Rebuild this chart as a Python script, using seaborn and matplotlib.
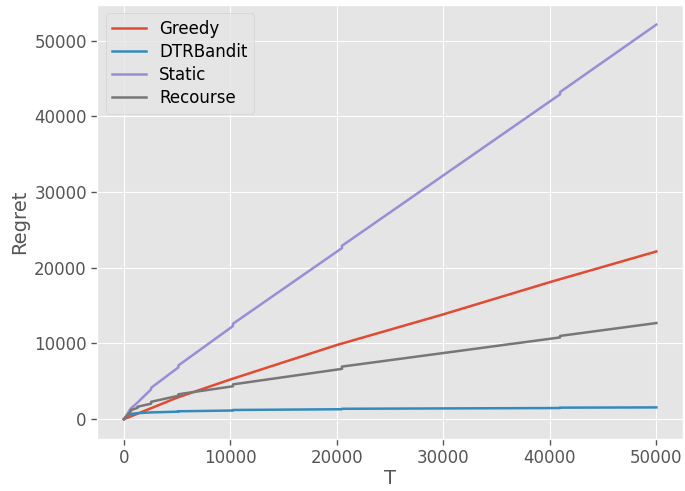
import matplotlib
matplotlib.use("Agg")
import matplotlib.pyplot as plt
import seaborn as sns
import pandas as pd

# knots (epoch doubling -> small jumps)
greedy_T = [0, 5000, 10000, 20000, 30000, 40000, 50000]
greedy_r = [0, 2850, 5250, 9800, 13850, 18100, 22150]

dtr_T = [0, 320, 640, 1280, 2560, 5120, 5121, 10240, 10241, 20480, 20481, 40960, 40961, 50000]
dtr_r = [0, 500, 700, 800, 900, 1000, 1050, 1150, 1220, 1320, 1380, 1480, 1530, 1560]

static_T = [0, 640, 1280, 2560, 2561, 5120, 5121, 10240, 10241, 20480, 20481, 40960, 40961, 50000]
static_r = [0, 1400, 2200, 3950, 4150, 6850, 7100, 12300, 12600, 22600, 22900, 42900, 43200, 52100]

recourse_T = [0, 640, 641, 1280, 1281, 2560, 2561, 5120, 5121, 10240, 10241, 20480, 20481, 40960, 40961, 50000]
recourse_r = [0, 1050, 1200, 1500, 1650, 2050, 2300, 3100, 3300, 4350, 4600, 6650, 6950, 10800, 11000, 12700]

series = {
    "Greedy": (greedy_T, greedy_r),
    "DTRBandit": (dtr_T, dtr_r),
    "Static": (static_T, static_r),
    "Recourse": (recourse_T, recourse_r),
}
colors = ["#E24A33", "#348ABD", "#988ED5", "#777777"]

df = pd.concat(
    [pd.DataFrame({"T": t, "Regret": r, "method": name}) for name, (t, r) in series.items()],
    ignore_index=True,
)

plt.style.use("ggplot")
fig, ax = plt.subplots(figsize=(6.85, 4.91), dpi=100)
sns.lineplot(data=df, x="T", y="Regret", hue="method", palette=colors,
             estimator=None, sort=False, linewidth=1.8, ax=ax)

ax.set_xlabel("T", fontsize=14, color="#555555", labelpad=1)
ax.set_ylabel("Regret", fontsize=14, color="#555555")
ax.tick_params(labelsize=12, length=4, width=1, color="#555555", direction="out")
ax.set_xticks([0, 10000, 20000, 30000, 40000, 50000])
ax.set_yticks([0, 10000, 20000, 30000, 40000, 50000])
ax.legend(loc="upper left", fontsize=12, title=None, labelspacing=0.3)

fig.subplots_adjust(left=0.142, right=0.997, top=0.99, bottom=0.106)
plt.savefig("out.png", dpi=100)
plt.close()
